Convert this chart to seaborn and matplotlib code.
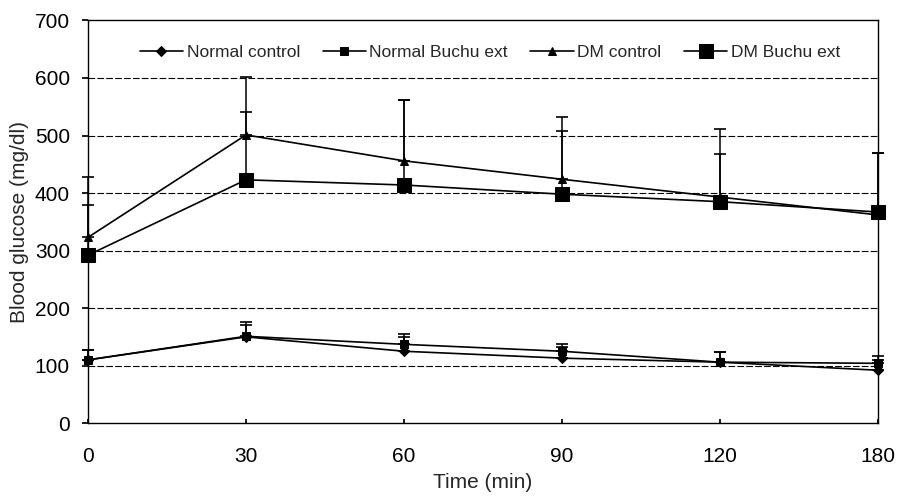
import matplotlib
matplotlib.use("Agg")
import matplotlib.pyplot as plt
import numpy as np
import pandas as pd
import seaborn as sns

# Sampling times (min), evenly spaced as categories
time_labels = ["0", "30", "60", "90", "120", "180"]

# Mean blood glucose (mg/dl) and standard deviations per group
normal_control = [110, 150, 125, 113, 106, 92]
normal_control_sd = [17, 20, 25, 19, 17, 18]
normal_buchu = [110, 151, 137, 125, 106, 104]
normal_buchu_sd = [17, 25, 18, 12, 17, 12]
dm_control = [323, 501, 456, 424, 393, 362]
dm_control_sd = [105, 100, 106, 108, 118, 107]
dm_buchu = [292, 423, 414, 398, 385, 367]
dm_buchu_sd = [87, 118, 148, 110, 83, 102]

series_names = ["Normal control", "Normal Buchu ext", "DM control", "DM Buchu ext"]

sns.set_theme(style="white")
plt.rcParams["font.family"] = ["Liberation Sans", "DejaVu Sans"]

fig = plt.figure(figsize=(9.02, 4.99), dpi=100)
ax = fig.add_axes([0.0976, 0.152, 0.8754, 0.807])

x = np.arange(len(time_labels))
styles = {
    "Normal control": dict(marker="D", ms=5.0),
    "Normal Buchu ext": dict(marker="s", ms=5.5),
    "DM control": dict(marker="^", ms=6.0),
    "DM Buchu ext": dict(marker="s", ms=9.5),
}
values = {
    "Normal control": (normal_control, normal_control_sd),
    "Normal Buchu ext": (normal_buchu, normal_buchu_sd),
    "DM control": (dm_control, dm_control_sd),
    "DM Buchu ext": (dm_buchu, dm_buchu_sd),
}

# horizontal dashed gridlines
for yv in range(100, 700, 100):
    ax.axhline(yv, color="black", lw=0.8, ls=(0, (6, 2)), zorder=1)

for name in series_names:
    mean, sd = values[name]
    df = pd.DataFrame({"x": x, "y": mean})
    st = styles[name]
    sns.lineplot(data=df, x="x", y="y", ax=ax, color="black", lw=1.2,
                 marker=st["marker"], markersize=st["ms"], markeredgecolor="black",
                 markerfacecolor="black", label=name, clip_on=False, zorder=3)
    # upper error bars only
    ax.errorbar(x, mean, yerr=[np.zeros(len(sd)), sd], fmt="none",
                ecolor="black", elinewidth=1.1, capsize=4, capthick=1.2,
                clip_on=False, zorder=2)

ax.set_xlim(0, len(time_labels) - 1)
ax.set_ylim(0, 700)
ax.set_xticks(x)
ax.set_xticklabels(time_labels)
ax.set_yticks(range(0, 800, 100))

ax.tick_params(axis="x", direction="in", length=3, labelsize=15, pad=17, colors="black")
ax.tick_params(axis="y", direction="out", length=4, labelsize=15, pad=9, colors="black")
ax.tick_params(left=True, bottom=True)

for sp in ax.spines.values():
    sp.set_visible(True)
    sp.set_color("black")
    sp.set_linewidth(1.0)

ax.set_xlabel("Time (min)", fontsize=15, labelpad=5)
ax.set_ylabel("Blood glucose (mg/dl)", fontsize=15, labelpad=4)

ax.legend(loc="center", bbox_to_anchor=(0.509, 0.92), ncol=4, frameon=False,
          fontsize=12.5, handlelength=2.5, columnspacing=1.3, handletextpad=0.2)

fig.savefig("out.png", dpi=100)
